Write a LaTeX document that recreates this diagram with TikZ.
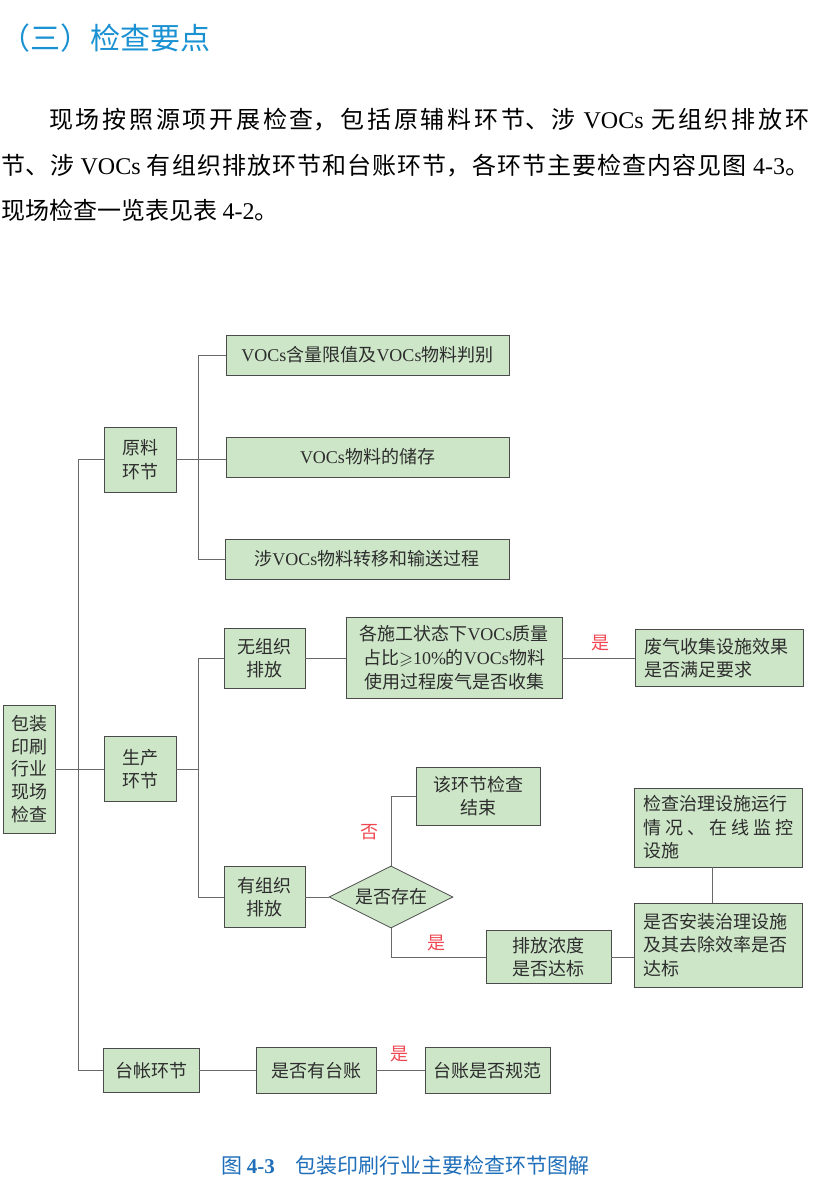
\documentclass[tikz,border=0pt]{standalone}
\usepackage{amssymb}
\usepackage{fontspec}
\setmainfont{Noto Sans CJK SC}
\newfontfamily\lat{Liberation Serif}
\usetikzlibrary{shapes.geometric,calc}
\XeTeXlinebreaklocale "zh"
\XeTeXlinebreakskip=0pt plus 3pt
\definecolor{boxgreen}{RGB}{205,230,200}
\definecolor{edgegray}{RGB}{75,75,75}
\definecolor{linegray}{RGB}{105,105,105}
\definecolor{inkgray}{RGB}{45,45,45}
\definecolor{markred}{RGB}{240,70,80}
\definecolor{headblue}{RGB}{25,145,210}
\definecolor{capblue}{RGB}{30,110,185}
\newcommand{\voc}{{\lat VOCs}}

\begin{document}
\begin{tikzpicture}[x=1pt, y=-1pt,
	font={\fontsize{18}{23.5}\selectfont},
	box/.style={draw=edgegray, fill=boxgreen, line width=0.8pt, inner sep=0pt, text=inkgray, align=center},
	lbox/.style={box, align=left, text width=150pt, inner xsep=9pt},
	link/.style={draw=linegray, line width=1pt},
	yes/.style={text=markred, inner sep=0pt},
	para/.style={anchor=north west, inner sep=0pt, text=black, text width=808pt, align=justify, font={\fontsize{24}{45.5}\selectfont}}]
	\path[use as bounding box, fill=white] (0,0) rectangle (826,1188);
	% heading and text
	\node[anchor=west, inner sep=0pt, text=headblue, font={\fontsize{30}{36}\selectfont}] (head) at (0,38) {（三）检查要点};
	\node[para] (txt) at (1,108) {\tolerance=9999\hspace*{48pt}现场按照源项开展检查，包括原辅料环节、涉 {\lat VOCs} 无组织排放环\linebreak 节、涉 {\lat VOCs} 有组织排放环节和台账环节，各环节主要检查内容见图 {\lat 4-3}。\linebreak 现场检查一览表见表 {\lat 4-2}。};
	%%% left column
	\node[box, minimum width=52, minimum height=128, font={\fontsize{18}{22.7}\selectfont}] (root) at (29,769) {包装\\印刷\\行业\\现场\\检查};
	\node[box, minimum width=72, minimum height=65] (yl) at (140,459.5) {原料\\环节};
	\node[box, minimum width=72, minimum height=65] (sc) at (140,769) {生产\\环节};
	\node[box, minimum width=96, minimum height=44] (tz) at (151,1070.5) {台帐环节};
	%%% raw materials
	\node[box, minimum width=283, minimum height=40] (yl1) at (367.5,355) {\voc{}含量限值及\voc{}物料判别};
	\node[box, minimum width=283, minimum height=40] (yl2) at (367.5,457) {\voc{}物料的储存};
	\node[box, minimum width=284, minimum height=40] (yl3) at (367,559) {涉\voc{}物料转移和输送过程};
	%%% production
	\node[box, minimum width=81, minimum height=60] (wz) at (264.5,658) {无组织\\排放};
	\node[box, minimum width=216, minimum height=81, font={\fontsize{18}{24}\selectfont}] (wz1) at (454,658) {各施工状态下\voc{}质量\\占比$\geqslant${\lat 10\%}的\voc{}物料\\使用过程废气是否收集};
	\node[lbox, minimum height=57] (wz2) at (719,658) {废气收集设施效果\\是否满足要求};
	\node[box, minimum width=81, minimum height=61] (yz) at (264.5,897) {有组织\\排放};
	\node[box, diamond, aspect=2, minimum width=124, minimum height=62] (dm) at (391,897) {是否存在};
	\node[box, minimum width=124, minimum height=58] (js) at (478,796) {该环节检查\\结束};
	\node[box, minimum width=125, minimum height=53] (pf) at (548.5,957) {排放浓度\\是否达标};
	\node[lbox, minimum height=84] (az) at (718.5,945) {是否安装治理设施\\及其去除效率是否\\达标};
	\node[lbox, minimum height=79] (jc) at (718.5,827.5) {检查治理设施运行\\\makebox[\linewidth]{情\hfill 况\hfill 、\hfill 在\hfill 线\hfill 监\hfill 控}\\设施};
	%%% ledger
	\node[box, minimum width=120, minimum height=46] (ts1) at (316,1070.5) {是否有台账};
	\node[box, minimum width=125, minimum height=46] (ts2) at (487.5,1070.5) {台账是否规范};
	% connectors
	\coordinate (trunk) at (78,0);
	\coordinate (fork) at (198,0);
	\draw[link] (yl.west) -- (yl.west -| trunk) -- (tz.west -| trunk) -- (tz.west);
	\draw[link] (root.east) -- (root.east -| sc.west);
	\draw[link] (yl.east) -- (yl.east -| yl2.west);
	\draw[link] (yl1.west) -- (yl1.west -| fork) -- (yl3.west -| fork) -- (yl3.west);
	\draw[link] (sc.east) -- (sc.east -| fork);
	\draw[link] (wz.west) -- (wz.west -| fork) -- (yz.west -| fork) -- (yz.west);
	\draw[link] (wz) -- (wz1) -- (wz2);
	\draw[link] (yz) -- (dm);
	\draw[link] (dm.north) |- (js.west);
	\draw[link] (dm.south) |- (pf.west);
	\draw[link] (pf.east) -- (pf.east -| az.west);
	\draw[link] ([xshift=-6pt]jc.south) -- ([xshift=-6pt]az.north);
	\draw[link] (tz) -- (ts1) -- (ts2);
	\node[yes] (l1) at (600,643) {是};
	\node[yes] (l2) at (369,832) {否};
	\node[yes] (l3) at (436,943) {是};
	\node[yes] (l4) at (399,1054) {是};
	% caption
	\node[text=capblue, font={\fontsize{21}{25}\selectfont}] (cap) at (405.5,1165) {图 {\lat\bfseries 4-3}\hspace{1em}包装印刷行业主要检查环节图解};
\end{tikzpicture}
\end{document}
